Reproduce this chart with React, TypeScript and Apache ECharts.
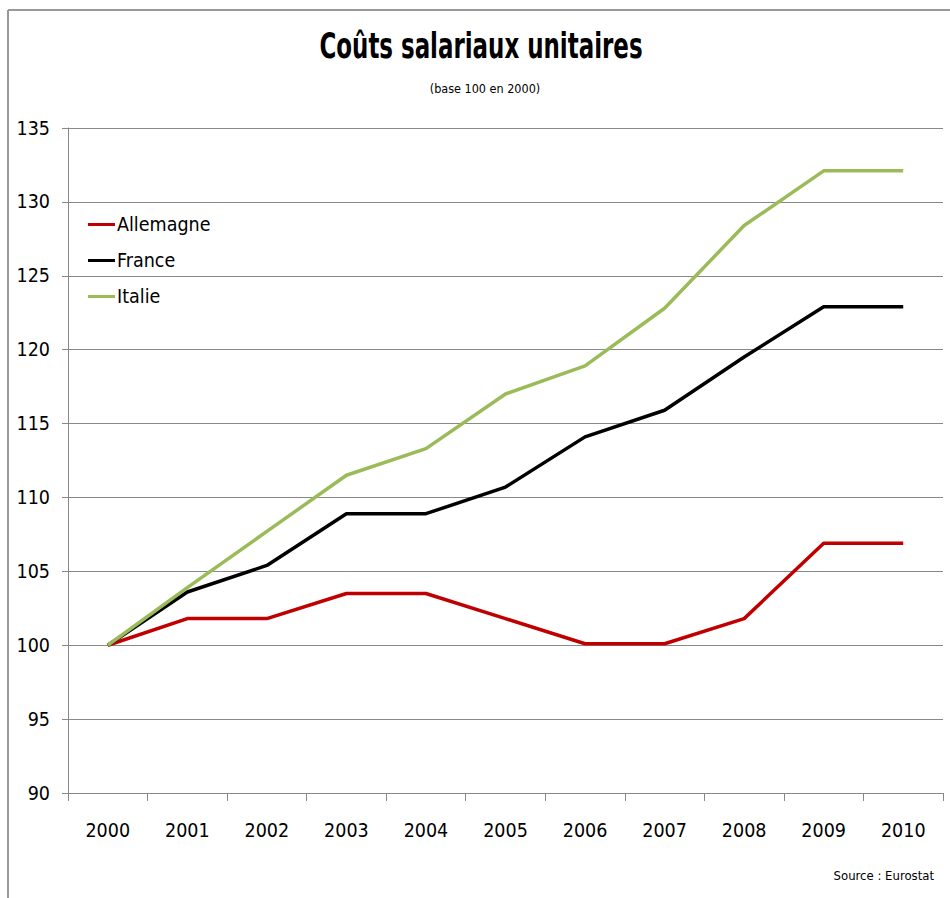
import React, { useEffect, useRef } from "react";
import * as echarts from "echarts";

const years = ["2000", "2001", "2002", "2003", "2004", "2005", "2006", "2007", "2008", "2009", "2010"];
const allemagne = [100, 101.8, 101.8, 103.5, 103.5, 101.8, 100.1, 100.1, 101.8, 106.9, 106.9];
const france = [100, 103.6, 105.4, 108.9, 108.9, 110.7, 114.1, 115.9, 119.5, 122.9, 122.9];
const italie = [100, 103.9, 107.7, 111.5, 113.3, 117.0, 118.9, 122.8, 128.4, 132.1, 132.1];
const seriesNames = ["Allemagne", "France", "Italie"];
const seriesColors = ["#C00000", "#000000", "#9BBB59"];
const titleText = "Coûts salariaux unitaires";
const subtitleText = "(base 100 en 2000)";
const sourceText = "Source : Eurostat";

const FONT = "'Liberation Sans Narrow', 'DejaVu Sans Condensed', 'Open Sans', sans-serif";

export default function App() {
  const ref = useRef<HTMLDivElement>(null);
  useEffect(() => {
    if (!ref.current) return;
    const chart = echarts.init(ref.current, undefined, { renderer: "svg" });
    const data = [allemagne, france, italie];
    chart.setOption({
      animation: false,
      backgroundColor: "#ffffff",
      textStyle: { fontFamily: FONT },
      title: [
        {
          text: subtitleText,
          left: 480,
          textAlign: "center",
          top: 77,
          textStyle: { fontFamily: FONT, fontSize: 12.5, fontWeight: "normal", color: "#000" },
        },
        {
          text: sourceText,
          right: 11,
          top: 864,
          textStyle: { fontFamily: FONT, fontSize: 13, fontWeight: "normal", color: "#000" },
        },
      ],
      graphic: [
        { type: "line", shape: { x1: 8, y1: 10, x2: 952, y2: 10 }, style: { stroke: "#999", lineWidth: 2 } },
        { type: "line", shape: { x1: 8, y1: 10, x2: 8, y2: 900 }, style: { stroke: "#999", lineWidth: 2 } },
        {
          type: "text",
          x: 481,
          y: 45,
          scaleX: 0.75,
          scaleY: 1.05,
          style: {
            text: titleText,
            fontFamily: FONT,
            fontSize: 34,
            fontWeight: "bold",
            fill: "#000",
            textAlign: "center",
            textVerticalAlign: "middle",
          },
        },
      ],
      legend: {
        orient: "vertical",
        left: 83,
        top: 209,
        itemGap: 15,
        itemWidth: 27,
        itemHeight: 3,
        icon: "rect",
        textStyle: { fontFamily: FONT, fontSize: 19.5, color: "#000", padding: [0, 0, 0, -3], lineHeight: 21 },
        data: seriesNames,
      },
      grid: { left: 68, right: 7, top: 128, bottom: 105 },
      xAxis: {
        type: "category",
        data: years,
        boundaryGap: true,
        axisLine: { lineStyle: { color: "#888", width: 1 } },
        axisTick: { show: true, length: 8, lineStyle: { color: "#888" } },
        axisLabel: { fontFamily: FONT, fontSize: 19.5, color: "#000", margin: 27 },
      },
      yAxis: {
        type: "value",
        min: 90,
        max: 135,
        interval: 5,
        axisLine: { show: true, lineStyle: { color: "#888", width: 1 } },
        axisTick: { show: true, length: 6, lineStyle: { color: "#888" } },
        axisLabel: { fontFamily: FONT, fontSize: 19.5, color: "#000", margin: 18 },
        splitLine: { show: true, lineStyle: { color: "#888", width: 1 } },
      },
      series: seriesNames.map((name, i) => ({
        name,
        type: "line",
        data: data[i],
        symbol: "none",
        showSymbol: false,
        color: seriesColors[i],
        lineStyle: { color: seriesColors[i], width: 3.5 },
        itemStyle: { color: seriesColors[i] },
      })),
    });
    return () => chart.dispose();
  }, []);
  return (
    <div
      ref={ref}
      style={{ position: "absolute", left: 0, top: 0, width: 950, height: 898 }}
    />
  );
}
